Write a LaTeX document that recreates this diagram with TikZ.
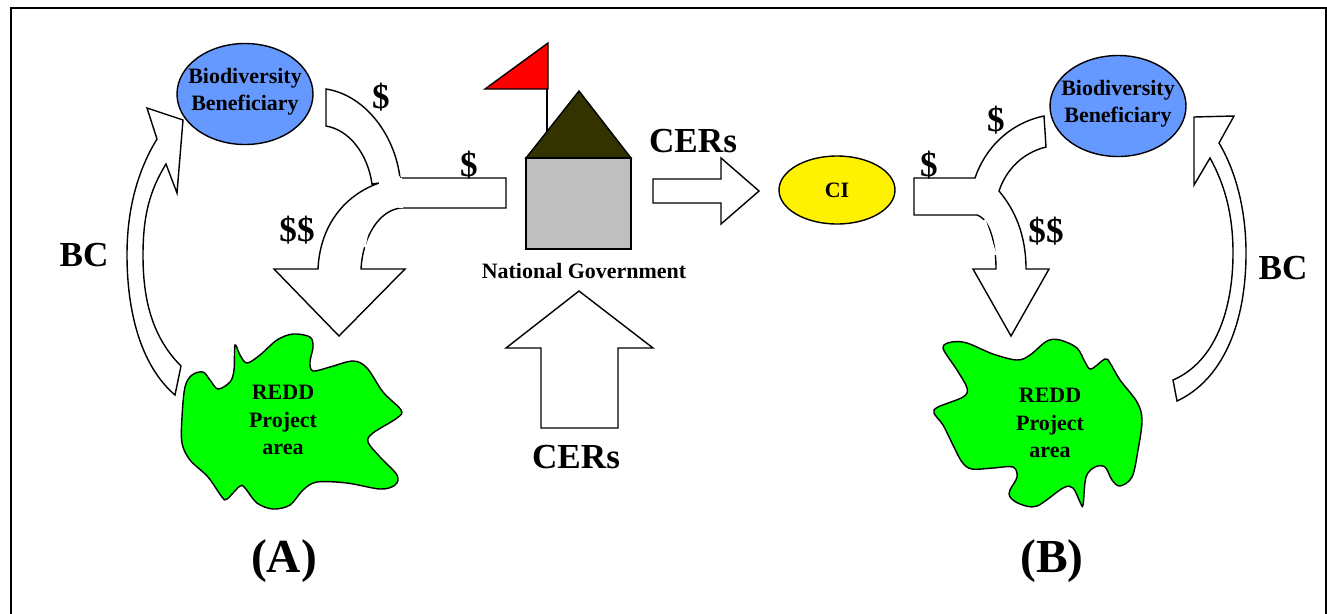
\documentclass[tikz,border=0pt]{standalone}
\usepackage{fontspec}
\setmainfont{Liberation Serif}
\usetikzlibrary{calc}
\usetikzlibrary{shapes.geometric}
\tikzset{
  lbl/.style={font=\bfseries\fontsize{#1}{#1}\selectfont, inner sep=0, align=center},
  lbl/.default=18,
  blob/.style={draw=black, thick, fill=green},
  shaft/.style={draw=black, thick, fill=white, line join=miter},
  bene/.style={ellipse, draw=black, thick, fill=benblue, minimum width=136*0.02cm, minimum height=101*0.02cm, inner sep=0},
}
\definecolor{benblue}{HTML}{6699FF}
\definecolor{roofcol}{HTML}{333300}
\begin{document}
\begin{tikzpicture}[x=.02cm,y=-.02cm]
\useasboundingbox (0,0) rectangle (1327,613);
\draw[thick] (11,640)--(11,8)--(1326,8)--(1326,640);

% the left side
\node[bene] (benA) at (245,94) {};
\node[lbl=12.5] (benAt) at (245,92) {Biodiversity\\[3pt]Beneficiary};
\draw[blob] plot[smooth cycle, tension=.55] coordinates {
 (235,345) (240,355) (247,363) (260,355) (277,340) (293,334) (310,337) (313,347) (310,362) (313,371)
 (330,367) (353,361) (367,368) (383,392) (401,410) (397,418) (373,433) (368,442) (380,457) (397,475)
 (395,485) (380,489) (347,483) (317,482) (303,490) (290,505) (273,509) (257,503) (245,488) (240,486)
 (227,499) (222,497) (208,477) (190,460) (182,443) (182,417) (185,387) (192,375) (203,372) (210,380)
 (218,389) (230,382) (234,370)};
\node[lbl=12.5] (redA) at (283,420) {REDD\\[3pt]Project\\[3pt]area};
% BC
\draw[shaft] (181,366) .. controls (150,335) and (143,295) .. (143,255)
  .. controls (143,215) and (150,190) .. (166,164) -- (177,193) -- (183,120) -- (147,108) -- (157,139)
  .. controls (135,175) and (127,215) .. (127,255) .. controls (127,310) and (140,365) .. (175,395) -- cycle;
% T shape
\draw[shaft] (326,89) .. controls (365,95) and (395,135) .. (400,178) -- (506,178) -- (506,208) -- (401,208)
  .. controls (380,210) and (363,235) .. (361,269) -- (405,269) -- (339,336) -- (274,269) -- (318,269)
  .. controls (320,225) and (345,195) .. (379,183) -- (372,184) .. controls (368,155) and (350,130) .. (326,126) -- cycle;
\draw[white, line width=2.5pt] (379,183)--(400,178);
\draw[white, line width=2.5pt] (400,178)--(401,208);
\draw[white, line width=2pt] (368,224)--(364,247);

% the centre
\draw[thick, fill=red] (485,89)--(548,43)--(548,89)--cycle;
\draw[thick] (547,89)--(547,132);
\draw[thick, fill=roofcol] (526,158)--(579,91)--(631,158)--cycle;
\draw[thick, fill=gray!50] (526,158) rectangle (631,249);
\node[lbl=12.5] (gov) at (584,271) {National Government};
\draw[shaft] (653,179)--(721,179)--(721,158)--(759,191)--(721,224)--(721,203)--(653,203)--cycle;
\draw[shaft] (541,428)--(541,348)--(506,348)--(579,291)--(653,348)--(618,348)--(618,428)--cycle;
\node[lbl=20] (cerR) at (693,141) {CERs};
\node[lbl=20] (cerU) at (576,457) {CERs};
\node[ellipse, draw=black, thick, fill=yellow, minimum width=116*0.02cm, minimum height=68*0.02cm, inner sep=0] (ci) at (837,190) {};
\node[lbl=12.5] at (ci) {CI};

% the right side
\node[bene] (benB) at (1118,106) {};
\node[lbl=12.5] (benBt) at (1118,104) {Biodiversity\\[3pt]Beneficiary};
\draw[blob] plot[smooth cycle, tension=.55] coordinates {
 (943,348) (952,342) (967,343) (993,354) (1017,360) (1030,355) (1047,341) (1060,340) (1077,348) (1085,362)
 (1091,369) (1105,359) (1110,363) (1120,380) (1137,402) (1142,420) (1138,450) (1132,477) (1120,486) (1112,480)
 (1105,467) (1095,467) (1086,477) (1083,505) (1080,502) (1073,488) (1063,488) (1037,506) (1020,504) (1010,497)
 (1010,490) (1017,477) (1013,467) (993,468) (972,469) (962,462) (952,443) (943,425) (934,413) (938,407)
 (963,397) (967,388) (957,370)};
\node[lbl=12.5] (redB) at (1050,423) {REDD\\[3pt]Project\\[3pt]area};
\draw[shaft] (1173,380) .. controls (1215,362) and (1233,310) .. (1233,253)
  .. controls (1233,215) and (1225,185) .. (1210,158) -- (1194,185) -- (1194,117) -- (1234,116) -- (1219,143)
  .. controls (1238,175) and (1246,215) .. (1246,253) .. controls (1246,325) and (1222,380) .. (1177,401) -- cycle;
\draw[shaft] (975,178) .. controls (985,148) and (1010,123) .. (1044,116) -- (1046,147)
  .. controls (1022,153) and (1006,170) .. (999,191)
  .. controls (1015,210) and (1026,235) .. (1026,269) -- (1049,269) -- (1011,336) -- (973,269) -- (996,269)
  .. controls (996,250) and (992,220) .. (977,215) -- (914,215) -- (914,178) -- cycle;
\draw[white, line width=2pt] (984,220)--(995,255);

% money
\node[lbl=20] (dA) at (381,97) {\$};
\node[lbl=20] (dB) at (469,165) {\$};
\node[lbl=20] (ddA) at (297,230) {\$\$};
\node[lbl=20] (bcA) at (84,255) {BC};
\node[lbl=20] (dC) at (996,120) {\$};
\node[lbl=20] (dD) at (929,165) {\$};
\node[lbl=20] (ddB) at (1046,231) {\$\$};
\node[lbl=20] (bcB) at (1283,268) {BC};
\node[lbl=27] (capA) at (284,561) {(A)};
\node[lbl=27] (capB) at (1052,561) {(B)};
\end{tikzpicture}
\end{document}
